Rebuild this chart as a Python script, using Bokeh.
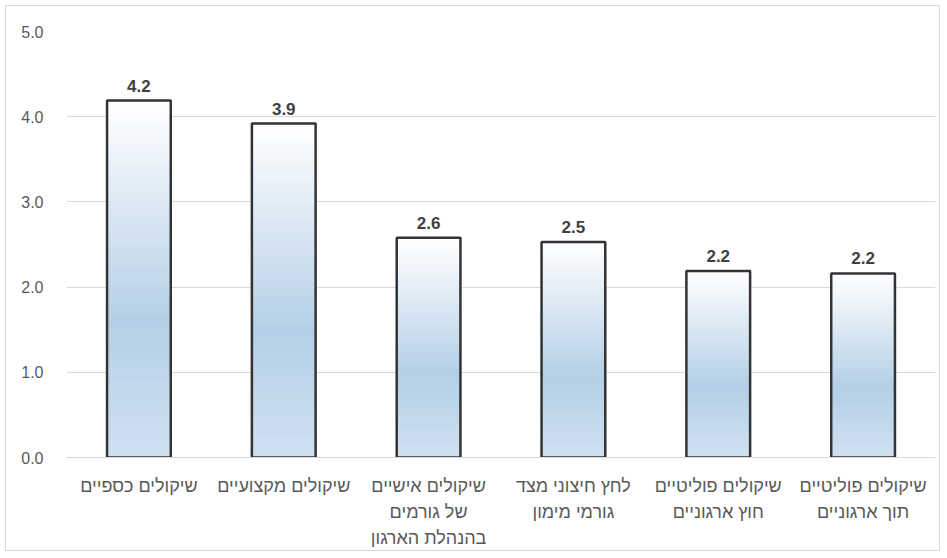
import numpy as np
from bokeh.plotting import figure
from bokeh.models import FactorRange, Range1d, ColumnDataSource, NumeralTickFormatter, FixedTicker
from bokeh.core.properties import value
from bokeh.embed import file_html
from bokeh.resources import INLINE

categories = [
    "שיקולים כספיים",
    "שיקולים מקצועיים",
    "שיקולים אישיים\nשל גורמים\nבהנהלת הארגון",
    "לחץ חיצוני מצד\nגורמי מימון",
    "שיקולים פוליטיים\nחוץ ארגוניים",
    "שיקולים פוליטיים\nתוך ארגוניים",
]
values = [4.19, 3.92, 2.58, 2.53, 2.19, 2.16]
labels = ["4.2", "3.9", "2.6", "2.5", "2.2", "2.2"]
y_ticks = [0, 1, 2, 3, 4, 5]

FONT = "Liberation Sans"
BAR_W = 0.44

p = figure(
    x_range=FactorRange(*categories, range_padding=0),
    y_range=Range1d(0, 5),
    width=935, height=546,
    output_backend="svg", toolbar_location=None,
    min_border_left=60, min_border_right=6, min_border_top=25, min_border_bottom=95,
)
p.styles = {"margin": "5px", "border": "1px solid #d9d9d9"}
p.outline_line_color = None
p.background_fill_color = "white"

def lerp(c1, c2, t):
    return tuple(int(round(a + (b - a) * t)) for a, b in zip(c1, c2))

def hexc(c):
    return "#%02x%02x%02x" % c

stops = [(0.0, (255, 255, 255)), (0.62, (180, 207, 230)), (1.0, (208, 225, 241))]

def grad(t):
    for (t0, c0), (t1, c1) in zip(stops[:-1], stops[1:]):
        if t <= t1:
            return hexc(lerp(c0, c1, (t - t0) / (t1 - t0)))
    return hexc(stops[-1][1])

N = 60
xs, bots, tops, cols = [], [], [], []
for cat, v in zip(categories, values):
    for i in range(N):
        xs.append(cat)
        bots.append(v * i / N)
        tops.append(v * (i + 1) / N)
        cols.append(grad(1 - (i + 0.5) / N))

p.vbar(x=xs, bottom=bots, top=tops, width=BAR_W, fill_color=cols,
       line_color=cols, line_width=1)

src = ColumnDataSource(dict(x=categories, top=values, label=labels,
                            zero=[0] * len(categories)))
p.vbar(x="x", top="top", bottom=0, width=BAR_W, source=src,
       fill_alpha=0, line_color="#333333", line_width=2.5)

p.text(x="x", y="top", text="label", source=src,
       text_align="center", text_baseline="alphabetic", y_offset=-15,
       text_font=value(FONT), text_font_size="17px", text_font_style="bold",
       text_color="#404040")

# category labels drawn as text glyphs below the axis
p.text(x="x", y="zero", text="x", source=src,
       text_align="center", text_baseline="top", y_offset=18,
       text_font=value(FONT), text_font_size="18px", text_line_height=1.3,
       text_color="#595959", level="overlay")

p.yaxis.ticker = FixedTicker(ticks=y_ticks)
p.yaxis.formatter = NumeralTickFormatter(format="0.0")
p.yaxis.axis_line_color = None
p.yaxis.major_tick_line_color = None
p.yaxis.minor_tick_line_color = None
p.yaxis.major_label_text_font = FONT
p.yaxis.major_label_text_font_size = "16px"
p.yaxis.major_label_text_color = "#595959"
p.yaxis.major_label_standoff = 17

p.xaxis.axis_line_color = "#d9d9d9"
p.xaxis.major_tick_line_color = None
p.xaxis.minor_tick_line_color = None
p.xaxis.major_label_text_font_size = "0px"
p.xaxis.major_label_text_color = None

p.xgrid.grid_line_color = None
p.ygrid.grid_line_color = "#d9d9d9"
p.ygrid.grid_line_width = 1

open("out.html", "w").write(file_html(p, INLINE))
